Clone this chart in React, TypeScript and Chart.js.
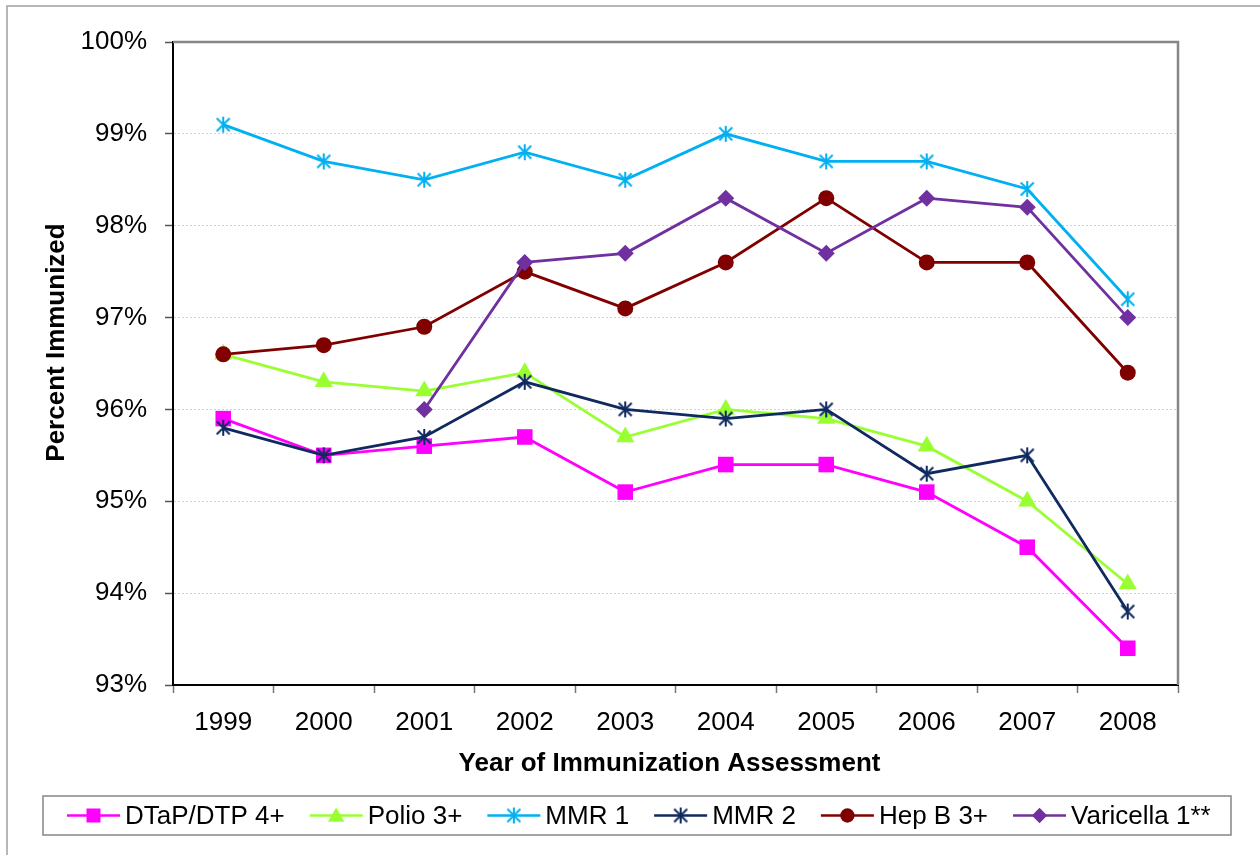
import { useEffect, useRef } from 'react';
import { Chart, registerables } from 'chart.js';

Chart.register(...registerables);

const years = ['1999', '2000', '2001', '2002', '2003', '2004', '2005', '2006', '2007', '2008'];
const dtapValues = [95.9, 95.5, 95.6, 95.7, 95.1, 95.4, 95.4, 95.1, 94.5, 93.4];
const polioValues = [96.6, 96.3, 96.2, 96.4, 95.7, 96.0, 95.9, 95.6, 95.0, 94.1];
const mmr1Values = [99.1, 98.7, 98.5, 98.8, 98.5, 99.0, 98.7, 98.7, 98.4, 97.2];
const mmr2Values = [95.8, 95.5, 95.7, 96.3, 96.0, 95.9, 96.0, 95.3, 95.5, 93.8];
const hepBValues = [96.6, 96.7, 96.9, 97.5, 97.1, 97.6, 98.3, 97.6, 97.6, 96.4];
const varicellaValues = [null, null, 96.0, 97.6, 97.7, 98.3, 97.7, 98.3, 98.2, 97.0];
const seriesNames = ['DTaP/DTP 4+', 'Polio 3+', 'MMR 1', 'MMR 2', 'Hep B 3+', 'Varicella 1**'];
const seriesColors = ['#FF00FF', '#99FF33', '#00B0F0', '#0F2A5F', '#800000', '#7030A0'];
const yMin = 93;
const yMax = 100;

const FONT = '"Liberation Sans", Arial, sans-serif';

function makeAsterisk(color: string): HTMLCanvasElement {
  const c = document.createElement('canvas');
  c.width = 18;
  c.height = 18;
  const g = c.getContext('2d')!;
  g.strokeStyle = color;
  g.lineWidth = 2;
  g.lineCap = 'butt';
  g.beginPath();
  g.moveTo(2.5, 2.5);
  g.lineTo(15.5, 15.5);
  g.moveTo(15.5, 2.5);
  g.lineTo(2.5, 15.5);
  g.moveTo(9, 1);
  g.lineTo(9, 17);
  g.stroke();
  return c;
}

const framePlugin = {
  id: 'frames',
  beforeDraw(chart: any) {
    const ctx = chart.ctx;
    ctx.save();
    ctx.fillStyle = '#ffffff';
    ctx.fillRect(0, 0, chart.width, chart.height);
    ctx.strokeStyle = '#a0a0a0';
    ctx.lineWidth = 1.5;
    ctx.strokeRect(7, 6, chart.width + 20, chart.height + 20);
    ctx.restore();
  },
  afterDraw(chart: any) {
    const ctx = chart.ctx;
    const a = chart.chartArea;
    ctx.save();
    ctx.strokeStyle = '#868686';
    ctx.lineWidth = 2.5;
    ctx.beginPath();
    ctx.moveTo(a.left, a.top);
    ctx.lineTo(a.right, a.top);
    ctx.lineTo(a.right, a.bottom);
    ctx.stroke();

    // axis titles
    ctx.fillStyle = '#000';
    ctx.font = `bold 26px ${FONT}`;
    ctx.textAlign = 'center';
    ctx.textBaseline = 'alphabetic';
    ctx.fillText('Year of Immunization Assessment', (a.left + a.right) / 2 - 6, 771);
    ctx.translate(64, (a.top + a.bottom) / 2 - 21);
    ctx.rotate(-Math.PI / 2);
    ctx.fillText('Percent Immunized', 0, 0);
    ctx.restore();

    // legend
    ctx.save();
    ctx.strokeStyle = '#868686';
    ctx.lineWidth = 1.5;
    ctx.strokeRect(43, 796, 1188, 39);
    ctx.font = `26px ${FONT}`;
    ctx.textBaseline = 'middle';
    ctx.textAlign = 'left';
    const cy = 815.5;
    let x = 67;
    chart.data.datasets.forEach((ds: any) => {
      const color = ds.borderColor;
      ctx.strokeStyle = color;
      ctx.lineWidth = 2.5;
      ctx.beginPath();
      ctx.moveTo(x, cy);
      ctx.lineTo(x + 53, cy);
      ctx.stroke();
      const mx = x + 26.5;
      const st = ds.pointStyle;
      const r = ds.pointRadius * 0.9;
      ctx.fillStyle = color;
      ctx.beginPath();
      if (st === 'rect') {
        const s = Math.SQRT1_2 * r;
        ctx.rect(mx - s, cy - s, 2 * s, 2 * s);
        ctx.fill();
      } else if (st === 'triangle') {
        for (let k = 0; k < 3; k++) {
          const ang = -Math.PI / 2 + (k * 2 * Math.PI) / 3;
          const px = mx + Math.cos(ang) * r;
          const py = cy + Math.sin(ang) * r + r * 0.15;
          if (k === 0) ctx.moveTo(px, py);
          else ctx.lineTo(px, py);
        }
        ctx.closePath();
        ctx.fill();
      } else if (st === 'circle') {
        ctx.arc(mx, cy, r, 0, Math.PI * 2);
        ctx.fill();
      } else if (st === 'rectRot') {
        ctx.moveTo(mx - r, cy);
        ctx.lineTo(mx, cy - r);
        ctx.lineTo(mx + r, cy);
        ctx.lineTo(mx, cy + r);
        ctx.closePath();
        ctx.fill();
      } else if (st instanceof HTMLCanvasElement) {
        ctx.drawImage(st, mx - st.width / 2, cy - st.height / 2);
      }
      ctx.fillStyle = '#000';
      ctx.fillText(ds.label, x + 58, cy + 1);
      x = x + 58 + ctx.measureText(ds.label).width + 25;
    });
    ctx.restore();
  },
};

export default function App() {
  const ref = useRef<HTMLCanvasElement | null>(null);

  useEffect(() => {
    if (!ref.current) return;
    const styles: any[] = ['rect', 'triangle', makeAsterisk(seriesColors[2]), makeAsterisk(seriesColors[3]), 'circle', 'rectRot'];
    const radii = [11, 10.5, 8, 8, 8, 8.5];
    const values = [dtapValues, polioValues, mmr1Values, mmr2Values, hepBValues, varicellaValues];
    const datasets = values.map((v, i) => ({
      label: seriesNames[i],
      data: v,
      borderColor: seriesColors[i],
      backgroundColor: seriesColors[i],
      pointBackgroundColor: seriesColors[i],
      pointBorderColor: seriesColors[i],
      pointBorderWidth: 0,
      pointStyle: styles[i],
      pointRadius: radii[i],
      borderWidth: 2.8,
      tension: 0,
      fill: false,
      order: 6 - i,
    }));

    const chart = new Chart(ref.current, {
      type: 'line',
      data: { labels: years, datasets },
      plugins: [framePlugin],
      options: {
        animation: false,
        responsive: false,
        maintainAspectRatio: false,
        layout: { padding: { left: 0, top: 42, right: 82, bottom: 0 } },
        plugins: {
          legend: { display: false },
          tooltip: { enabled: false },
          title: { display: false },
        },
        scales: {
          x: {
            type: 'category',
            offset: true,
            grid: {
              display: true,
              drawOnChartArea: false,
              drawTicks: true,
              tickLength: 8,
              offset: true,
              tickColor: '#777777',
              tickWidth: 1.5,
            },
            border: { display: true, color: '#000000', width: 2 },
            ticks: {
              color: '#000000',
              font: { family: FONT, size: 26 },
              padding: 14,
              maxRotation: 0,
              autoSkip: false,
            },
            afterFit: (s: any) => {
              s.height = 170;
            },
          },
          y: {
            min: yMin,
            max: yMax,
            grid: {
              color: '#C8D3E8',
              lineWidth: 1,
              tickColor: '#555555',
              tickLength: 8,
              tickWidth: 1.5,
              tickBorderDash: [],
            },
            border: { display: true, color: '#000000', width: 2, dash: [2, 2] },
            ticks: {
              stepSize: 1,
              color: '#000000',
              font: { family: FONT, size: 26 },
              padding: 18,
              callback: (v: any) => `${v}%`,
            },
            afterFit: (s: any) => {
              s.width = 173;
            },
          },
        },
      },
    });
    return () => chart.destroy();
  }, []);

  return (
    <div style={{ position: 'absolute', left: 0, top: 0, width: 1260, height: 855 }}>
      <canvas ref={ref} width={1260} height={855} style={{ width: 1260, height: 855, display: 'block' }} />
    </div>
  );
}
